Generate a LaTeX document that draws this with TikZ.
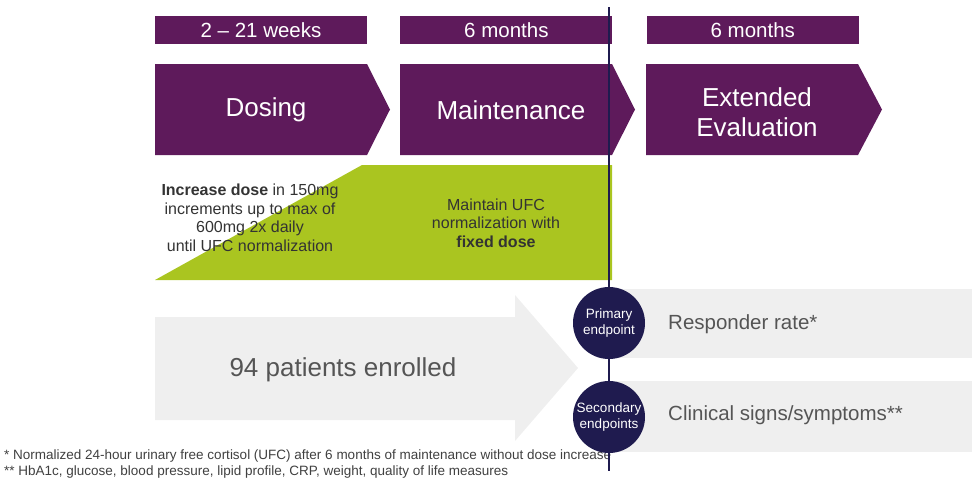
\documentclass[tikz,border=0pt]{standalone}
\usepackage{fontspec}
\setmainfont{Liberation Sans}
\usetikzlibrary{positioning}

\definecolor{plum}{HTML}{5E1A5B}
\definecolor{lime}{HTML}{AAC520}
\definecolor{navy}{HTML}{1F1B4F}
\definecolor{mist}{HTML}{EFEFEF}
\definecolor{ink}{HTML}{555555}

\begin{document}
\begin{tikzpicture}[x=1pt, y=-1pt]
	\tikzstyle{span} = [fill=plum, text=white, minimum width=212pt, minimum height=28pt, inner sep=0pt, font=\fontsize{20.5}{20.5}\selectfont];
	\tikzstyle{phase} = [text=white, align=center, inner sep=0pt, font=\fontsize{26}{30}\selectfont];
	\tikzstyle{note} = [text=black!80, align=center, inner sep=0pt, font=\fontsize{16}{18.5}\selectfont];
	\tikzstyle{goal} = [circle, fill=navy, text=white, minimum size=72pt, inner sep=0pt, align=center, font=\fontsize{13.5}{16}\selectfont];
	\tikzstyle{outcome} = [text=ink, anchor=west, inner sep=0pt, font=\fontsize{20.5}{20.5}\selectfont];
	\tikzstyle{foot} = [text=black!75, anchor=west, inner sep=0pt, font=\fontsize{13.5}{13.5}\selectfont];
	\tikzstyle{timeline} = [navy, line width=2.4pt];

	\useasboundingbox (0,0) rectangle (972,483);

	% durations
	\node[span] (weeks) at (261,30) {2 -- 21 weeks};
	\node[span, right=33pt of weeks] (months) {6 months};
	\node[span, right=34pt of months] (extra) {6 months};

	% phases
	\fill[plum] (155,64) -- (367,64) -- (390,109.5) -- (367,155) -- (155,155) -- cycle;
	\fill[plum] (400,64) -- (612,64) -- (635,109.5) -- (612,155) -- (400,155) -- cycle;
	\fill[plum] (646,64) -- (858,64) -- (882,109.5) -- (858,155) -- (646,155) -- cycle;
	\node[phase] (dosing) at (266,110) {Dosing};
	\node[phase] (maint) at (511,110) {Maintenance};
	\node[phase] (ext) at (757,112) {Extended\\Evaluation};

	% dose ramp
	\fill[lime] (155,280) -- (362,165) -- (612,165) -- (612,280) -- cycle;
	\node[note] (titrate) at (250,218) {\textbf{Increase dose} in 150mg\\increments up to max of\\600mg 2x daily\\until UFC normalization};
	\node[note] (hold) at (496,223) {Maintain UFC\\normalization with\\\textbf{fixed dose}};

	% enrolment and outcomes
	\fill[mist] (155,317) -- (515,317) -- (515,295) -- (578,368) -- (515,441) -- (515,420) -- (155,420) -- cycle;
	\node[text=ink, font=\fontsize{26}{26}\selectfont] (enrolled) at (343,370) {94 patients enrolled};
	\fill[mist] (609,289) rectangle (972,358);
	\fill[mist] (609,381) rectangle (972,452);
	\node[outcome] (rate) at (668,324) {Responder rate*};
	\node[outcome] (signs) at (668,415) {Clinical signs/symptoms**};

	% footnotes
	\node[foot] (fn1) at (4,456) {* Normalized 24-hour urinary free cortisol (UFC) after 6 months of maintenance without dose increase};
	\node[foot] (fn2) at (4,472) {** HbA1c, glucose, blood pressure, lipid profile, CRP, weight, quality of life measures};

	% cut-off line
	\coordinate (top) at (609,7);
	\coordinate (bottom) at (609,471);
	\node[goal] (primary) at (609,323) {Primary\\endpoint};
	\node[goal] (secondary) at (609,417) {Secondary\\endpoints};
	\draw[timeline] (top) -- (primary);
	\draw[timeline] (primary) -- (secondary);
	\draw[timeline] (secondary) -- (bottom);
\end{tikzpicture}
\end{document}
